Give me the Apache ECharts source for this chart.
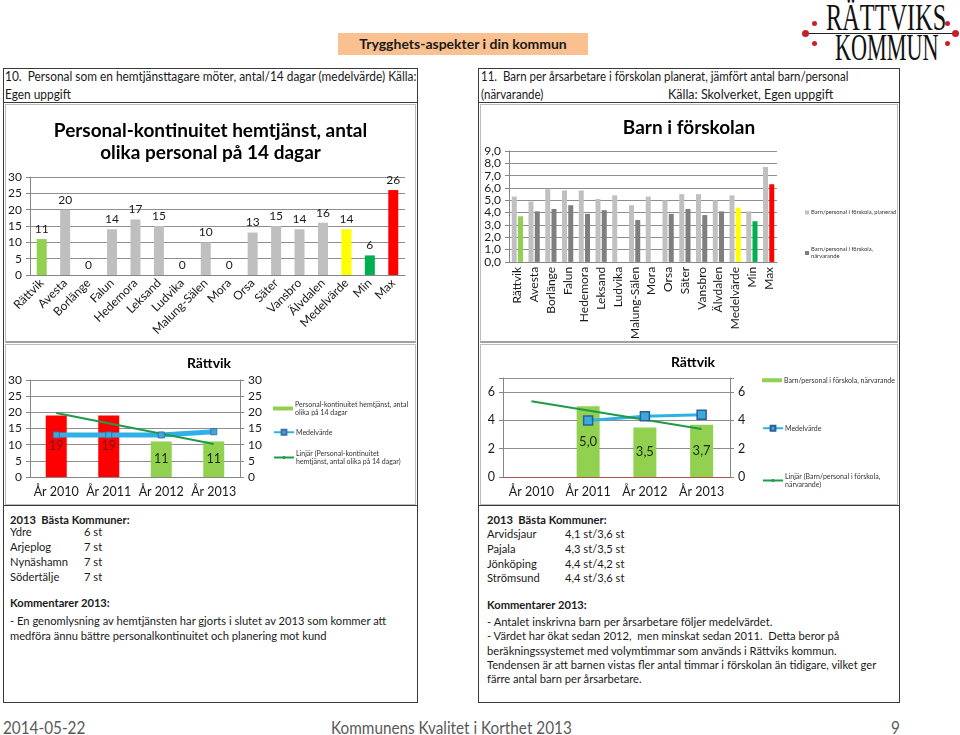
<!DOCTYPE html>
<html><head><meta charset="utf-8">
<script src="https://cdn.jsdelivr.net/npm/echarts/dist/echarts.min.js"></script>
<style>
body{margin:0;width:960px;height:735px;position:relative;background:#fff;overflow:hidden;
 font-family:Lato,'Open Sans',sans-serif;color:#1a1a1a}
.a{position:absolute;white-space:nowrap}
.t{font-size:12px;line-height:14px;height:14px;transform:scaleX(0.93);transform-origin:0 0}
.b{font-weight:bold}
.box{position:absolute;box-sizing:border-box}
.ch{position:absolute}
.f{font-size:17px;line-height:20px;color:#595959;transform:scaleX(0.9);transform-origin:0 0}
</style></head><body>

<!-- logo -->
<div class="a" style="left:826px;top:-2px;font:38px/38px 'Liberation Serif',serif;transform:scaleX(0.64);transform-origin:0 0;color:#111">RÄTTVIKS</div>
<div class="a" style="left:808px;top:33px;width:150px;height:1px;background:#222"></div>
<div class="a" style="left:835px;top:29px;font:37px/37px 'Liberation Serif',serif;transform:scaleX(0.6);transform-origin:0 0;color:#111">KOMMUN</div>
<div class="a" style="left:802px;top:30px;width:7px;height:7px;border-radius:50%;background:#c8202a"></div>
<div class="a" style="left:812px;top:21px;width:5px;height:5px;border-radius:50%;background:#c8202a"></div>
<div class="a" style="left:812px;top:41px;width:5px;height:5px;border-radius:50%;background:#c8202a"></div>
<div class="a" style="left:952px;top:30px;width:7px;height:7px;border-radius:50%;background:#c8202a"></div>
<div class="a" style="left:945px;top:21px;width:5px;height:5px;border-radius:50%;background:#c8202a"></div>
<div class="a" style="left:945px;top:41px;width:5px;height:5px;border-radius:50%;background:#c8202a"></div>

<!-- header -->
<div class="a b" style="left:338px;top:33px;width:250px;height:22px;background:#fac08f;text-align:center;font-size:14px;line-height:22px">Trygghets-aspekter i din kommun</div>

<!-- left column frames -->
<div class="box" style="left:3px;top:68px;width:415px;height:635px;border:1px solid #3a3a3a"></div>
<div class="box" style="left:3px;top:102px;width:415px;height:1px;background:#3a3a3a"></div>
<div class="box" style="left:5px;top:104px;width:411px;height:239px;border:1px solid #bdbdbd;border-bottom:2px solid #a0a0a0"></div>
<div class="box" style="left:5px;top:344px;width:411px;height:161px;border:1px solid #bdbdbd"></div>
<div class="box" style="left:3px;top:505px;width:415px;height:1px;background:#3a3a3a"></div>

<!-- right column frames -->
<div class="box" style="left:478px;top:68px;width:422px;height:635px;border:1px solid #3a3a3a"></div>
<div class="box" style="left:478px;top:102px;width:422px;height:1px;background:#3a3a3a"></div>
<div class="box" style="left:480px;top:104px;width:418px;height:239px;border:1px solid #bdbdbd;border-bottom:2px solid #a0a0a0"></div>
<div class="box" style="left:480px;top:344px;width:418px;height:161px;border:1px solid #bdbdbd"></div>
<div class="box" style="left:478px;top:505px;width:422px;height:1px;background:#3a3a3a"></div>

<!-- column titles -->
<div class="a" style="left:5px;top:69px;font-size:12.5px;line-height:16px;transform:scaleX(0.95);transform-origin:0 0">10.&nbsp; Personal som en hemtjänsttagare möter, antal/14 dagar (medelvärde) Källa:</div>
<div class="a" style="left:5px;top:87px;font-size:12.5px;line-height:16px;transform:scaleX(0.95);transform-origin:0 0">Egen uppgift</div>
<div class="a" style="left:481px;top:69px;font-size:12.5px;line-height:16px;transform:scaleX(0.92);transform-origin:0 0">11.&nbsp; Barn per årsarbetare i förskolan planerat, jämfört antal barn/personal</div>
<div class="a" style="left:481px;top:87px;font-size:12.5px;line-height:16px;transform:scaleX(0.92);transform-origin:0 0">(närvarande)</div>
<div class="a" style="left:668px;top:87px;font-size:12.5px;line-height:16px">Källa: Skolverket, Egen uppgift</div>

<!-- charts -->
<div id="c1" class="ch" style="left:4px;top:103px;width:413px;height:239px"></div>
<div id="c2" class="ch" style="left:479px;top:103px;width:420px;height:239px"></div>
<div id="c3" class="ch" style="left:4px;top:345px;width:413px;height:159px"></div>
<div id="c4" class="ch" style="left:479px;top:345px;width:420px;height:159px"></div>

<!-- left text -->
<div class="a t b" style="left:10px;top:513px">2013&nbsp; Bästa Kommuner:</div>
<div class="a t" style="left:10px;top:525px">Ydre</div><div class="a t" style="left:84px;top:525px">6 st</div>
<div class="a t" style="left:10px;top:540px">Arjeplog</div><div class="a t" style="left:84px;top:540px">7 st</div>
<div class="a t" style="left:10px;top:555px">Nynäshamn</div><div class="a t" style="left:84px;top:555px">7 st</div>
<div class="a t" style="left:10px;top:570px">Södertälje</div><div class="a t" style="left:84px;top:570px">7 st</div>
<div class="a t b" style="left:10px;top:596px">Kommentarer 2013:</div>
<div class="a t" style="left:10px;top:614px">- En genomlysning av hemtjänsten har gjorts i slutet av 2013 som kommer att</div>
<div class="a t" style="left:10px;top:629px">medföra ännu bättre personalkontinuitet och planering mot kund</div>

<!-- right text -->
<div class="a t b" style="left:487px;top:513px">2013&nbsp; Bästa Kommuner:</div>
<div class="a t" style="left:487px;top:527px">Arvidsjaur</div><div class="a t" style="left:565px;top:527px">4,1 st/3,6 st</div>
<div class="a t" style="left:487px;top:542px">Pajala</div><div class="a t" style="left:565px;top:542px">4,3 st/3,5 st</div>
<div class="a t" style="left:487px;top:557px">Jönköping</div><div class="a t" style="left:565px;top:557px">4,4 st/4,2 st</div>
<div class="a t" style="left:487px;top:571px">Strömsund</div><div class="a t" style="left:565px;top:571px">4,4 st/3,6 st</div>
<div class="a t b" style="left:487px;top:598px">Kommentarer 2013:</div>
<div class="a t" style="left:487px;top:615px">- Antalet inskrivna barn per årsarbetare följer medelvärdet.</div>
<div class="a t" style="left:487px;top:629px">- Värdet har ökat sedan 2012,&nbsp; men minskat sedan 2011.&nbsp; Detta beror på</div>
<div class="a t" style="left:487px;top:644px">beräkningssystemet med volymtimmar som används i Rättviks kommun.</div>
<div class="a t" style="left:487px;top:658px">Tendensen är att barnen vistas fler antal timmar i förskolan än tidigare, vilket ger</div>
<div class="a t" style="left:487px;top:672px">färre antal barn per årsarbetare.</div>

<!-- footer -->
<div class="a f" style="left:3px;top:718px">2014-05-22</div>
<div class="a f" style="left:331px;top:718px">Kommunens Kvalitet i Korthet 2013</div>
<div class="a f" style="left:891px;top:718px">9</div>

<script>
// ---------- data ----------
const categories = ['Rättvik','Avesta','Borlänge','Falun','Hedemora','Leksand','Ludvika','Malung-Sälen','Mora','Orsa','Säter','Vansbro','Älvdalen','Medelvärde','Min','Max'];
const personalValues = [11,20,0,14,17,15,0,10,0,13,15,14,16,14,6,26];
const planeradValues = [5.3,4.9,5.9,5.8,5.8,5.1,5.4,4.6,5.3,5.0,5.5,5.5,5.0,5.4,4.1,7.7];
const narvarandeValues = [3.7,4.1,4.3,4.6,3.9,4.2,null,3.4,null,3.9,4.3,3.8,4.1,4.4,3.3,6.3];
const years = ['År 2010','År 2011','År 2012','År 2013'];
const personalYearValues = [19,19,11,11];
const personalMedelValues = [13,13,13,14];
const personalTrendValues = [19.8,null,null,10.2];
const barnYearValues = [null,5.0,3.5,3.7];
const barnMedelValues = [null,4.0,4.3,4.4];
const barnTrendValues = [5.35,null,null,3.4];

// ---------- styles ----------
const FONT = "Lato,'Open Sans',sans-serif";
const TXT = '#1a1a1a', AX = '#868686', GRID = '#8e8e8e';
const highlight = {'Rättvik':'#92d050','Medelvärde':'#ffff00','Min':'#00b050','Max':'#ff0000'};
const yearBarColors = ['#ff0000','#ff0000','#92d050','#92d050'];
const yearLabelColors = ['#7a1010','#7a1010','#1d2a12','#1d2a12'];
const comma1 = v => (typeof v === 'number') ? v.toFixed(1).replace('.', ',') : v;

function valAxis(min,max,interval,extra){
  return Object.assign({type:'value',min,max,interval,
    axisLine:{show:true,lineStyle:{color:AX}},
    axisTick:{show:true,length:4,lineStyle:{color:AX}},
    splitLine:{show:true,lineStyle:{color:GRID}},
    axisLabel:{fontSize:12,color:TXT,fontFamily:FONT,margin:8}},extra||{});
}

// ---------- chart 1 ----------
echarts.init(document.getElementById('c1')).setOption({
  animation:false,
  textStyle:{fontFamily:FONT},
  title:{text:'Personal-kontinuitet hemtjänst, antal\nolika personal på 14 dagar',left:'center',top:12,
    textStyle:{fontSize:19,fontWeight:'bold',lineHeight:22,color:'#000',fontFamily:FONT}},
  grid:{left:26,top:74,width:375,height:98},
  xAxis:{type:'category',data:categories,
    axisLine:{lineStyle:{color:AX}},axisTick:{length:4,lineStyle:{color:AX}},
    axisLabel:{rotate:45,interval:0,fontSize:12,color:TXT,margin:6,fontFamily:FONT}},
  yAxis:valAxis(0,30,5),
  series:[{type:'bar',barWidth:10,
    data:personalValues.map((v,i)=>({value:v,itemStyle:{color:highlight[categories[i]]||'#bfbfbf'}})),
    label:{show:true,position:'top',distance:4,fontSize:12,color:TXT,fontFamily:FONT}}]
});

// ---------- chart 2 ----------
const nPlan = 'Barn/personal i förskola, planerad';
const nNarv = 'Barn/personal i förskola, närvarande';
const smallLeg = {fontSize:5.8,lineHeight:7,color:'#333',fontFamily:FONT,padding:[0,0,0,-3]};
echarts.init(document.getElementById('c2')).setOption({
  animation:false,
  textStyle:{fontFamily:FONT},
  title:{text:'Barn i förskolan',left:'center',top:10,
    textStyle:{fontSize:19,fontWeight:'bold',color:'#000',fontFamily:FONT}},
  legend:[
    {data:[nPlan],left:326,top:106,padding:0,itemWidth:4,itemHeight:4,icon:'rect',textStyle:smallLeg},
    {data:[nNarv],left:326,top:143,padding:0,itemWidth:4,itemHeight:4,icon:'rect',
     formatter:()=> 'Barn/personal i förskola,\nnärvarande',textStyle:smallLeg}
  ],
  grid:{left:30,top:48,width:268,height:114},
  xAxis:{type:'category',data:categories,
    axisLine:{lineStyle:{color:AX}},axisTick:{length:4,lineStyle:{color:AX}},
    axisLabel:{rotate:90,interval:0,fontSize:12,color:TXT,margin:5,fontFamily:FONT}},
  yAxis:valAxis(0,9,1,{axisLabel:{fontSize:12,color:TXT,fontFamily:FONT,margin:8,formatter:comma1}}),
  series:[
    {name:nPlan,type:'bar',barWidth:5,barGap:'25%',itemStyle:{color:'#c0c0c0'},data:planeradValues},
    {name:nNarv,type:'bar',barWidth:5,barGap:'25%',itemStyle:{color:'#7f7f7f'},
     data:narvarandeValues.map((v,i)=>({value:v,itemStyle:{color:highlight[categories[i]]||'#7f7f7f'}}))}
  ]
});

// ---------- chart 3 ----------
const n3a = 'Personal-kontinuitet hemtjänst, antal olika på 14 dagar';
const n3b = 'Medelvärde';
const n3c = 'Linjär (Personal-kontinuitet hemtjänst, antal olika på 14 dagar)';
const legTxt = {fontSize:7,lineHeight:8.5,color:'#333',fontFamily:FONT,padding:[0,0,0,-3]};
const xYears = {type:'category',data:years,
    axisLine:{lineStyle:{color:AX}},axisTick:{length:4,lineStyle:{color:AX}},
    axisLabel:{interval:0,fontSize:12.5,color:TXT,margin:8,fontFamily:FONT}};
echarts.init(document.getElementById('c3')).setOption({
  animation:false,
  textStyle:{fontFamily:FONT},
  title:{text:'Rättvik',left:200,textAlign:'center',top:6,
    textStyle:{fontSize:14,fontWeight:'bold',color:'#000',fontFamily:FONT}},
  legend:[
    {data:[n3a],left:269,top:55,padding:0,itemWidth:20,itemHeight:4,icon:'rect',
     formatter:()=>'Personal-kontinuitet hemtjänst, antal\nolika på 14 dagar',textStyle:legTxt},
    {data:[n3b],left:269,top:83,padding:0,itemWidth:20,itemHeight:6,textStyle:legTxt},
    {data:[n3c],left:269,top:104,padding:0,itemWidth:20,itemHeight:4,
     formatter:()=>'Linjär (Personal-kontinuitet\nhemtjänst, antal olika på 14 dagar)',textStyle:legTxt}
  ],
  grid:{left:26,top:35,width:210,height:97},
  xAxis:xYears,
  yAxis:[valAxis(0,30,5),valAxis(0,30,5,{position:'right',splitLine:{show:false}})],
  series:[
    {name:n3a,type:'bar',barWidth:21,itemStyle:{color:'#92d050'},
     data:personalYearValues.map((v,i)=>({value:v,itemStyle:{color:yearBarColors[i]},label:{color:yearLabelColors[i]}})),
     label:{show:true,position:'inside',fontSize:12.5,fontFamily:FONT}},
    {name:n3b,type:'line',data:personalMedelValues,symbol:'rect',symbolSize:6,
     lineStyle:{width:5,color:'#2fb0e6'},itemStyle:{color:'#41a9d8',borderColor:'#3e6fa6',borderWidth:1}},
    {name:n3c,type:'line',data:personalTrendValues,connectNulls:true,symbol:'none',
     lineStyle:{width:2,color:'#1f9a48'},itemStyle:{color:'#1f9a48'}}
  ]
});

// ---------- chart 4 ----------
const n4a = 'Barn/personal i förskola, närvarande';
const n4b = 'Medelvärde';
const n4c = 'Linjär (Barn/personal i förskola, närvarande)';
echarts.init(document.getElementById('c4')).setOption({
  animation:false,
  textStyle:{fontFamily:FONT},
  title:{text:'Rättvik',left:209,textAlign:'center',top:5,
    textStyle:{fontSize:14,fontWeight:'bold',color:'#000',fontFamily:FONT}},
  legend:[
    {data:[n4a],left:283,top:31,padding:0,itemWidth:20,itemHeight:4,icon:'rect',textStyle:legTxt},
    {data:[n4b],left:283,top:79,padding:0,itemWidth:20,itemHeight:6,textStyle:legTxt},
    {data:[n4c],left:283,top:127,padding:0,itemWidth:20,itemHeight:4,
     formatter:()=>'Linjär (Barn/personal i förskola,\nnärvarande)',textStyle:legTxt}
  ],
  grid:{left:24,top:33,width:227,height:99},
  xAxis:[xYears,
    {type:'category',data:years,position:'top',axisLine:{lineStyle:{color:'#b05050'}},
     axisTick:{show:false},axisLabel:{show:false}}],
  yAxis:[valAxis(0,7,2,{axisLabel:{fontSize:12.5,color:TXT,fontFamily:FONT,margin:8,formatter:v=>v===7?'':v}}),
         valAxis(0,7,2,{position:'right',splitLine:{show:false},axisLabel:{fontSize:12.5,color:TXT,fontFamily:FONT,margin:8,formatter:v=>v===7?'':v}})],
  series:[
    {name:n4a,type:'bar',barWidth:23,itemStyle:{color:'#92d050'},data:barnYearValues,
     label:{show:true,position:'inside',fontSize:13,color:'#1d2a12',fontFamily:FONT,formatter:p=>comma1(p.value)}},
    {name:n4b,type:'line',data:barnMedelValues,symbol:'rect',symbolSize:9,
     lineStyle:{width:3,color:'#2fb0e6'},itemStyle:{color:'#3aa9dc',borderColor:'#2d5f96',borderWidth:1.5}},
    {name:n4c,type:'line',data:barnTrendValues,connectNulls:true,symbol:'none',
     lineStyle:{width:2,color:'#1f9a48'},itemStyle:{color:'#1f9a48'}}
  ]
});
</script>
</body></html>
